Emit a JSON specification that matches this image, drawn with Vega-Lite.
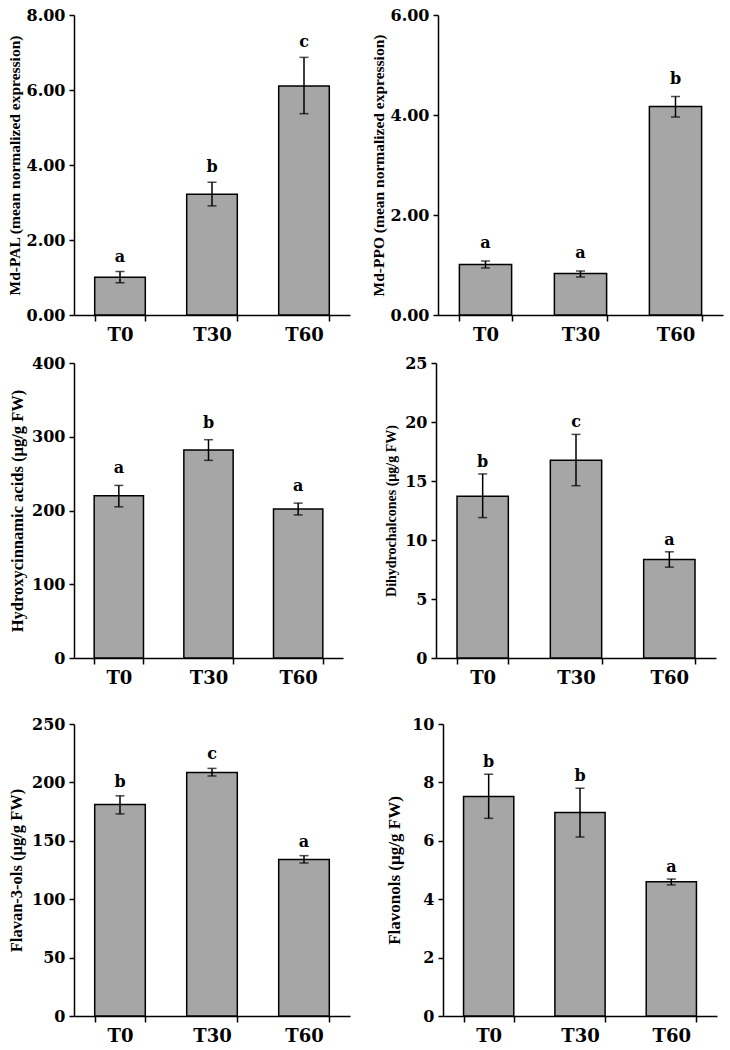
{
  "$schema": "https://vega.github.io/schema/vega-lite/v6.json",
  "background": "white",
  "padding": {"left": 7, "top": 7, "right": 3, "bottom": 0},
  "config": {
    "view": {"stroke": null},
    "font": "Liberation Serif",
    "axis": {"domainColor": "black", "domainWidth": 1.5, "tickColor": "black", "tickWidth": 1.5, "labelColor": "black", "titleColor": "black", "grid": false, "labelFont": "DejaVu Serif", "labelFontWeight": "bold", "titleFont": "Liberation Serif", "titleFontWeight": "bold"},
    "axisX": {"tickBand": "extent", "labelAngle": 0, "labelFontSize": 18, "tickSize": 6, "labelPadding": 5},
    "axisY": {"labelFontSize": 16, "tickSize": 5, "labelPadding": 4, "titleFontSize": 15}
  },
  "datasets": {
    "d": [
      {"panel": "PAL", "t": "T0", "mean": 1.01, "lo": 0.86, "hi": 1.16, "letter": "a"},
      {"panel": "PAL", "t": "T30", "mean": 3.22, "lo": 2.91, "hi": 3.54, "letter": "b"},
      {"panel": "PAL", "t": "T60", "mean": 6.11, "lo": 5.37, "hi": 6.87, "letter": "c"},
      {"panel": "PPO", "t": "T0", "mean": 1.01, "lo": 0.94, "hi": 1.08, "letter": "a"},
      {"panel": "PPO", "t": "T30", "mean": 0.83, "lo": 0.76, "hi": 0.88, "letter": "a"},
      {"panel": "PPO", "t": "T60", "mean": 4.17, "lo": 3.96, "hi": 4.37, "letter": "b"},
      {"panel": "HCA", "t": "T0", "mean": 220, "lo": 205, "hi": 234, "letter": "a"},
      {"panel": "HCA", "t": "T30", "mean": 282, "lo": 268, "hi": 296, "letter": "b"},
      {"panel": "HCA", "t": "T60", "mean": 202, "lo": 194, "hi": 210, "letter": "a"},
      {"panel": "DHC", "t": "T0", "mean": 13.7, "lo": 11.9, "hi": 15.6, "letter": "b"},
      {"panel": "DHC", "t": "T30", "mean": 16.75, "lo": 14.6, "hi": 18.95, "letter": "c"},
      {"panel": "DHC", "t": "T60", "mean": 8.35, "lo": 7.7, "hi": 9.0, "letter": "a"},
      {"panel": "F3O", "t": "T0", "mean": 181, "lo": 173, "hi": 188.5, "letter": "b"},
      {"panel": "F3O", "t": "T30", "mean": 208.5, "lo": 205.5, "hi": 212, "letter": "c"},
      {"panel": "F3O", "t": "T60", "mean": 134, "lo": 131, "hi": 137.3, "letter": "a"},
      {"panel": "FLV", "t": "T0", "mean": 7.52, "lo": 6.77, "hi": 8.28, "letter": "b"},
      {"panel": "FLV", "t": "T30", "mean": 6.97, "lo": 6.13, "hi": 7.8, "letter": "b"},
      {"panel": "FLV", "t": "T60", "mean": 4.6, "lo": 4.49, "hi": 4.69, "letter": "a"}
    ]
  },
  "spacing": 29,
  "vconcat": [
    {
      "spacing": 11,
      "vconcat": [
        {
          "spacing": 88,
          "bounds": "flush",
          "hconcat": [
            {
              "width": 276, "height": 300,
              "data": {"name": "d"},
              "transform": [{"filter": "datum.panel == 'PAL'"}],
              "encoding": {"x": {"field": "t", "type": "nominal", "sort": ["T0", "T30", "T60"], "title": null, "scale": {"paddingInner": 0.45, "paddingOuter": 0.225}}},
              "layer": [
                {"mark": {"type": "bar", "fill": "#A6A6A6", "stroke": "black", "strokeWidth": 1.5}, "encoding": {"y": {"field": "mean", "type": "quantitative", "scale": {"domain": [0, 8], "nice": false}, "axis": {"values": [0, 2, 4, 6, 8], "format": ".2f", "titlePadding": 4, "titleFontSize": 15.5}, "title": "Md-PAL (mean normalized expression)"}}},
                {"mark": {"type": "rule", "color": "black", "strokeWidth": 1.5}, "encoding": {"y": {"field": "lo", "type": "quantitative", "title": "Md-PAL (mean normalized expression)"}, "y2": {"field": "hi"}}},
                {"mark": {"type": "tick", "color": "black", "thickness": 1.5, "size": 9, "orient": "horizontal"}, "encoding": {"y": {"field": "lo", "type": "quantitative", "title": "Md-PAL (mean normalized expression)"}}},
                {"mark": {"type": "tick", "color": "black", "thickness": 1.5, "size": 9, "orient": "horizontal"}, "encoding": {"y": {"field": "hi", "type": "quantitative", "title": "Md-PAL (mean normalized expression)"}}},
                {"mark": {"type": "text", "font": "DejaVu Serif", "fontWeight": "bold", "fontSize": 16, "dy": -10, "baseline": "alphabetic", "color": "black"}, "encoding": {"y": {"field": "hi", "type": "quantitative", "title": "Md-PAL (mean normalized expression)"}, "text": {"field": "letter"}}}
              ]
            },
            {
              "width": 285, "height": 300,
              "data": {"name": "d"},
              "transform": [{"filter": "datum.panel == 'PPO'"}],
              "encoding": {"x": {"field": "t", "type": "nominal", "sort": ["T0", "T30", "T60"], "title": null, "scale": {"paddingInner": 0.45, "paddingOuter": 0.225}}},
              "layer": [
                {"mark": {"type": "bar", "fill": "#A6A6A6", "stroke": "black", "strokeWidth": 1.5}, "encoding": {"y": {"field": "mean", "type": "quantitative", "scale": {"domain": [0, 6], "nice": false}, "axis": {"values": [0, 2, 4, 6], "format": ".2f", "titlePadding": 4, "titleFontSize": 15.5}, "title": "Md-PPO (mean normalized expression)"}}},
                {"mark": {"type": "rule", "color": "black", "strokeWidth": 1.5}, "encoding": {"y": {"field": "lo", "type": "quantitative", "title": "Md-PPO (mean normalized expression)"}, "y2": {"field": "hi"}}},
                {"mark": {"type": "tick", "color": "black", "thickness": 1.5, "size": 9, "orient": "horizontal"}, "encoding": {"y": {"field": "lo", "type": "quantitative", "title": "Md-PPO (mean normalized expression)"}}},
                {"mark": {"type": "tick", "color": "black", "thickness": 1.5, "size": 9, "orient": "horizontal"}, "encoding": {"y": {"field": "hi", "type": "quantitative", "title": "Md-PPO (mean normalized expression)"}}},
                {"mark": {"type": "text", "font": "DejaVu Serif", "fontWeight": "bold", "fontSize": 16, "dy": -13, "baseline": "alphabetic", "color": "black"}, "encoding": {"y": {"field": "hi", "type": "quantitative", "title": "Md-PPO (mean normalized expression)"}, "text": {"field": "letter"}}}
              ]
            }
          ]
        },
        {
          "spacing": 93,
          "bounds": "flush",
          "hconcat": [
            {
              "width": 269, "height": 295,
              "data": {"name": "d"},
              "transform": [{"filter": "datum.panel == 'HCA'"}],
              "encoding": {"x": {"field": "t", "type": "nominal", "sort": ["T0", "T30", "T60"], "title": null, "scale": {"paddingInner": 0.45, "paddingOuter": 0.225}}},
              "layer": [
                {"mark": {"type": "bar", "fill": "#A6A6A6", "stroke": "black", "strokeWidth": 1.5}, "encoding": {"y": {"field": "mean", "type": "quantitative", "scale": {"domain": [0, 400], "nice": false}, "axis": {"values": [0, 100, 200, 300, 400], "titlePadding": 6, "titleFontSize": 16.5}, "title": "Hydroxycinnamic acids (µg/g FW)"}}},
                {"mark": {"type": "rule", "color": "black", "strokeWidth": 1.5}, "encoding": {"y": {"field": "lo", "type": "quantitative", "title": "Hydroxycinnamic acids (µg/g FW)"}, "y2": {"field": "hi"}}},
                {"mark": {"type": "tick", "color": "black", "thickness": 1.5, "size": 9, "orient": "horizontal"}, "encoding": {"y": {"field": "lo", "type": "quantitative", "title": "Hydroxycinnamic acids (µg/g FW)"}}},
                {"mark": {"type": "tick", "color": "black", "thickness": 1.5, "size": 9, "orient": "horizontal"}, "encoding": {"y": {"field": "hi", "type": "quantitative", "title": "Hydroxycinnamic acids (µg/g FW)"}}},
                {"mark": {"type": "text", "font": "DejaVu Serif", "fontWeight": "bold", "fontSize": 16, "dy": -12, "baseline": "alphabetic", "color": "black"}, "encoding": {"y": {"field": "hi", "type": "quantitative", "title": "Hydroxycinnamic acids (µg/g FW)"}, "text": {"field": "letter"}}}
              ]
            },
            {
              "width": 280, "height": 295,
              "data": {"name": "d"},
              "transform": [{"filter": "datum.panel == 'DHC'"}],
              "encoding": {"x": {"field": "t", "type": "nominal", "sort": ["T0", "T30", "T60"], "title": null, "scale": {"paddingInner": 0.45, "paddingOuter": 0.225}}},
              "layer": [
                {"mark": {"type": "bar", "fill": "#A6A6A6", "stroke": "black", "strokeWidth": 1.5}, "encoding": {"y": {"field": "mean", "type": "quantitative", "scale": {"domain": [0, 25], "nice": false}, "axis": {"values": [0, 5, 10, 15, 20, 25], "titlePadding": 6, "titleFontSize": 14}, "title": "Dihydrochalcones (µg/g FW)"}}},
                {"mark": {"type": "rule", "color": "black", "strokeWidth": 1.5}, "encoding": {"y": {"field": "lo", "type": "quantitative", "title": "Dihydrochalcones (µg/g FW)"}, "y2": {"field": "hi"}}},
                {"mark": {"type": "tick", "color": "black", "thickness": 1.5, "size": 9, "orient": "horizontal"}, "encoding": {"y": {"field": "lo", "type": "quantitative", "title": "Dihydrochalcones (µg/g FW)"}}},
                {"mark": {"type": "tick", "color": "black", "thickness": 1.5, "size": 9, "orient": "horizontal"}, "encoding": {"y": {"field": "hi", "type": "quantitative", "title": "Dihydrochalcones (µg/g FW)"}}},
                {"mark": {"type": "text", "font": "DejaVu Serif", "fontWeight": "bold", "fontSize": 16, "dy": -7, "baseline": "alphabetic", "color": "black"}, "encoding": {"y": {"field": "hi", "type": "quantitative", "title": "Dihydrochalcones (µg/g FW)"}, "text": {"field": "letter"}}}
              ]
            }
          ]
        }
      ]
    },
    {
      "spacing": 93,
      "bounds": "flush",
      "hconcat": [
        {
          "width": 276, "height": 292,
          "data": {"name": "d"},
          "transform": [{"filter": "datum.panel == 'F3O'"}],
          "encoding": {"x": {"field": "t", "type": "nominal", "sort": ["T0", "T30", "T60"], "title": null, "scale": {"paddingInner": 0.45, "paddingOuter": 0.225}}},
          "layer": [
            {"mark": {"type": "bar", "fill": "#A6A6A6", "stroke": "black", "strokeWidth": 1.5}, "encoding": {"y": {"field": "mean", "type": "quantitative", "scale": {"domain": [0, 250], "nice": false}, "axis": {"values": [0, 50, 100, 150, 200, 250], "titlePadding": 7, "titleFontSize": 16.5}, "title": "Flavan-3-ols (µg/g FW)"}}},
            {"mark": {"type": "rule", "color": "black", "strokeWidth": 1.5}, "encoding": {"y": {"field": "lo", "type": "quantitative", "title": "Flavan-3-ols (µg/g FW)"}, "y2": {"field": "hi"}}},
            {"mark": {"type": "tick", "color": "black", "thickness": 1.5, "size": 9, "orient": "horizontal"}, "encoding": {"y": {"field": "lo", "type": "quantitative", "title": "Flavan-3-ols (µg/g FW)"}}},
            {"mark": {"type": "tick", "color": "black", "thickness": 1.5, "size": 9, "orient": "horizontal"}, "encoding": {"y": {"field": "hi", "type": "quantitative", "title": "Flavan-3-ols (µg/g FW)"}}},
            {"mark": {"type": "text", "font": "DejaVu Serif", "fontWeight": "bold", "fontSize": 16, "dy": -9, "baseline": "alphabetic", "color": "black"}, "encoding": {"y": {"field": "hi", "type": "quantitative", "title": "Flavan-3-ols (µg/g FW)"}, "text": {"field": "letter"}}}
          ]
        },
        {
          "width": 274, "height": 292,
          "data": {"name": "d"},
          "transform": [{"filter": "datum.panel == 'FLV'"}],
          "encoding": {"x": {"field": "t", "type": "nominal", "sort": ["T0", "T30", "T60"], "title": null, "scale": {"paddingInner": 0.45, "paddingOuter": 0.225}}},
          "layer": [
            {"mark": {"type": "bar", "fill": "#A6A6A6", "stroke": "black", "strokeWidth": 1.5}, "encoding": {"y": {"field": "mean", "type": "quantitative", "scale": {"domain": [0, 10], "nice": false}, "axis": {"values": [0, 2, 4, 6, 8, 10], "titlePadding": 8, "titleFontSize": 17}, "title": "Flavonols (µg/g FW)"}}},
            {"mark": {"type": "rule", "color": "black", "strokeWidth": 1.5}, "encoding": {"y": {"field": "lo", "type": "quantitative", "title": "Flavonols (µg/g FW)"}, "y2": {"field": "hi"}}},
            {"mark": {"type": "tick", "color": "black", "thickness": 1.5, "size": 9, "orient": "horizontal"}, "encoding": {"y": {"field": "lo", "type": "quantitative", "title": "Flavonols (µg/g FW)"}}},
            {"mark": {"type": "tick", "color": "black", "thickness": 1.5, "size": 9, "orient": "horizontal"}, "encoding": {"y": {"field": "hi", "type": "quantitative", "title": "Flavonols (µg/g FW)"}}},
            {"mark": {"type": "text", "font": "DejaVu Serif", "fontWeight": "bold", "fontSize": 16, "dy": -7, "baseline": "alphabetic", "color": "black"}, "encoding": {"y": {"field": "hi", "type": "quantitative", "title": "Flavonols (µg/g FW)"}, "text": {"field": "letter"}}}
          ]
        }
      ]
    }
  ]
}
